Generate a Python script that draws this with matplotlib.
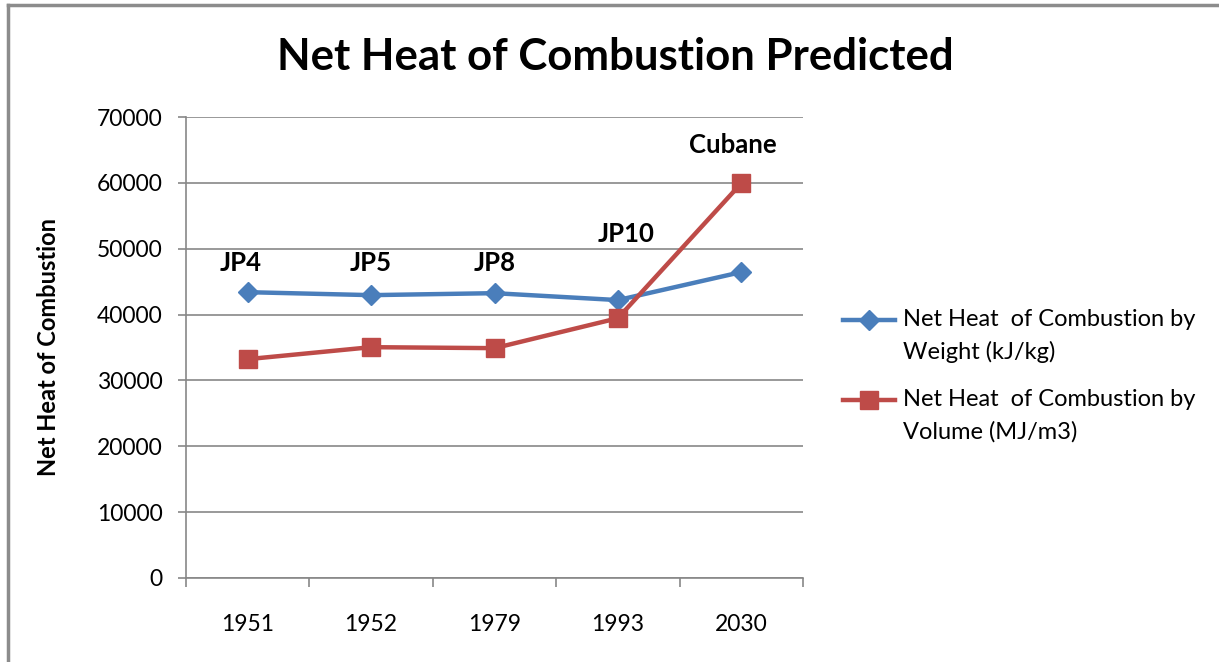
import matplotlib
matplotlib.use("Agg")
import matplotlib.pyplot as plt
from matplotlib.lines import Line2D

years = ["1951", "1952", "1979", "1993", "2030"]
fuels = ["JP4", "JP5", "JP8", "JP10", "Cubane"]
by_weight = [43400, 42950, 43250, 42200, 46450]
by_volume = [33230, 35050, 34900, 39450, 59940]
label_y = [47800, 47900, 47900, 52200, 65700]
yticks = [0, 10000, 20000, 30000, 40000, 50000, 60000, 70000]
series_names = [["Net Heat  of Combustion by", "Weight (kJ/kg)"],
                ["Net Heat  of Combustion by", "Volume (MJ/m3)"]]

plt.rcParams['font.family'] = ['Lato', 'DejaVu Sans']

W, H = 1219, 662
BLUE, RED, GRID = '#4a7ebb', '#be4b48', '#878787'
fig = plt.figure(figsize=(W / 100, H / 100), dpi=100)
ax = fig.add_axes([186 / W, 1 - 578 / H, (803 - 186) / W, (578 - 117) / H])

x = list(range(len(years)))
ax.plot(x, by_weight, color=BLUE, lw=3.2, marker='D', ms=10, zorder=3)
ax.plot(x, by_volume, color=RED, lw=3.2, marker='s', ms=13, zorder=3)

offsets = {"JP4": -0.06, "JP10": 0.07, "Cubane": -0.07}
for xi, name, ly in zip(x, fuels, label_y):
    ax.text(xi + offsets.get(name, 0), ly, name, ha='center', va='center',
            fontsize=18.5, fontweight='bold', color='black')

ax.set_xlim(-0.5, len(years) - 0.5)
ax.set_ylim(0, 70000)
ax.set_yticks(yticks)
ax.set_yticklabels([str(v) for v in yticks], fontsize=16.5)
ax.set_xticks(x)
ax.set_xticklabels(years, fontsize=16.5)
ax.set_xticks([i - 0.5 for i in range(len(years) + 1)], minor=True)
ax.tick_params(axis='x', which='major', length=0, pad=26)
ax.tick_params(axis='x', which='minor', length=6.5, color=GRID, width=1.2)
ax.tick_params(axis='y', length=6, color=GRID, width=1.2, pad=11)
ax.grid(axis='y', color=GRID, lw=1.2)
ax.set_axisbelow(True)
for s in ['top', 'right']:
    ax.spines[s].set_visible(False)
for s in ['left', 'bottom']:
    ax.spines[s].set_color(GRID)
    ax.spines[s].set_linewidth(1.2)

ax.set_ylabel('Net Heat of Combustion', fontsize=17, fontweight='bold')
ax.yaxis.set_label_coords((60 - 186) / 617, (578 - 347) / 461)

fig.text(615 / W, 1 - 57 / H, 'Net Heat of Combustion Predicted', ha='center',
         va='center', fontsize=31.5, fontweight='bold')

# legend, drawn Excel-style (marker aligned with first text line)
legend_rows = [(320, BLUE, 'D', 10), (400, RED, 's', 13)]
for (yr, col, mk, ms), lines in zip(legend_rows, series_names):
    yf = 1 - yr / H
    fig.add_artist(Line2D([843 / W, 895 / W], [yf, yf], color=col, lw=3.2))
    fig.add_artist(Line2D([869 / W], [yf], color=col, marker=mk, ms=ms, lw=0))
    for k, t in enumerate(lines):
        fig.text(903 / W, 1 - (yr + 32 * k) / H, t, ha='left', va='center',
                 fontsize=17)

fig.add_artist(Line2D([8 / W, 8 / W], [0, 1 - 5 / H], color='#8c8c8c', lw=2.5))
fig.add_artist(Line2D([8 / W, 1], [1 - 5 / H, 1 - 5 / H], color='#8c8c8c', lw=2.5))

fig.savefig('out.png', dpi=100)
